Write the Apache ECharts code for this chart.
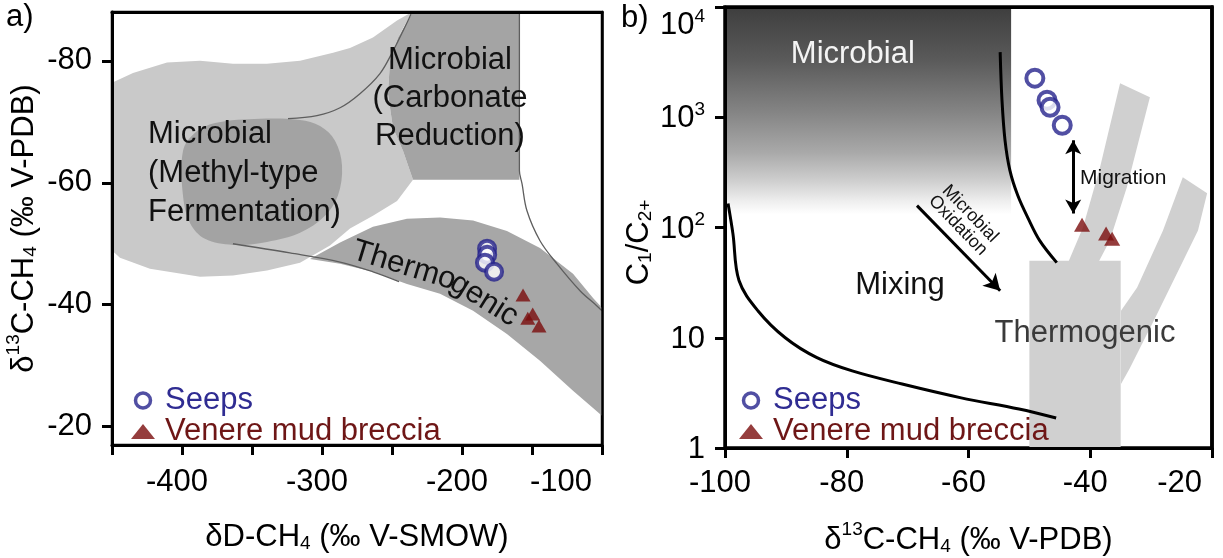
<!DOCTYPE html>
<html><head><meta charset="utf-8">
<script src="https://cdn.jsdelivr.net/npm/echarts@6/dist/echarts.min.js"></script>
<style>html,body{margin:0;padding:0;background:#fff;overflow:hidden;width:1223px;height:558px}#c{width:1223px;height:558px}</style>
</head><body><div id="c"></div>
<script>
const FONT = "'Liberation Sans', Arial, Helvetica, sans-serif";

// ---------- Panel a) : dD-CH4 vs d13C-CH4 ----------
const aYTicks = [-80, -60, -40, -20];
const seepsA = [[-182.1, -49.2], [-182.0, -48.2], [-183.6, -46.9], [-177.1, -45.4]];
const venereA = [[-156.4, -41.6], [-153.0, -37.8], [-149.5, -38.5], [-145.0, -36.5]];
const envelopeA = [[-450, -76.4], [-435, -78.0], [-410.7, -79.7], [-387.1, -80.0], [-363.6, -79.5], [-339.3, -79.5], [-315.7, -80.0], [-292.1, -81.3], [-280, -82.1], [-263.6, -83.8], [-246.4, -86.6], [-235.7, -88],
  [-245.7, -83.8], [-251.4, -80], [-252.9, -74.6], [-249.3, -69.0], [-242.1, -65.2], [-235, -60.5],
  [-246.4, -57.0], [-263.6, -54.6], [-280, -52.5], [-294.3, -49.7], [-315.7, -46.9], [-339.3, -45.6], [-363.6, -44.8], [-387.1, -44.6], [-422.9, -45.9], [-444.3, -47.7], [-450, -48.9]];
const methylA = [[-399.3, -65.2], [-390.7, -68.2], [-376.4, -69.8], [-344.3, -70.5], [-315.7, -70.3], [-301.4, -69.3], [-290.7, -66.9], [-285.7, -62.8], [-288.6, -57.9], [-297.9, -54.6], [-315.7, -51.8], [-339.3, -50.3], [-363.6, -49.8], [-383.6, -50.8], [-394.3, -53.4], [-399.3, -57.9]];
const carbonateA = [[-235, -88], [-159, -88], [-159, -60.5], [-235, -60.5], [-242.1, -65.2], [-249.3, -69.0], [-252.9, -74.6], [-251.4, -80], [-245.7, -83.8]];
const thermoBandA = [[-308.6, -47.5], [-287.1, -50.2], [-263.6, -52.8], [-239.3, -54.1], [-215.7, -54.3], [-192.1, -53.8], [-167.9, -52.1], [-144.3, -49.3], [-120.7, -45.1], [-106.4, -41.1], [-100, -39.5],
  [-100, -21.8], [-120.7, -25.9], [-144.3, -30.8], [-167.9, -35.2], [-192.1, -39.0], [-215.7, -41.8], [-239.3, -43.4], [-263.6, -45.4], [-287.1, -46.7]];
const line1A = [[-324.3, -70.5], [-303.6, -71.0], [-287.1, -72.3], [-272.9, -74.6], [-258.6, -77.9], [-249.3, -81.6], [-242.1, -84.9], [-235.7, -88]];
const line2A = [[-363.6, -50.0], [-322.9, -48.5], [-287.1, -47.0], [-263.6, -45.4], [-245, -43.8]];
const line3A = [[-159, -88], [-159, -62], [-157.1, -59.8], [-153.6, -55.4], [-144.3, -50.5], [-132.1, -46.7], [-115.7, -42.3], [-103.6, -39.8], [-100, -39.0]];
const labelsA = [
  { text: 'Microbial\n(Methyl-type\nFermentation)', at: [-424.3, -61.6], align: 'left', lh: 39 },
  { text: 'Microbial\n(Carbonate\nReduction)', at: [-208.6, -73.8], lh: 38 },
  { text: 'Thermo', at: [-241.4, -46.4], rotate: -17 },
  { text: 'genic', at: [-184.3, -40.8], rotate: -32 }
];

// ---------- Panel b) : d13C-CH4 vs C1/C2+ ----------
const seepsB = [[-49.1, 2263], [-47.1, 1428], [-46.6, 1232], [-44.6, 846]];
const venereB = [[-41.35, 106], [-37.4, 88], [-36.4, 79]];
const mixLowB = [[-99.5, 165], [-98.7, 88], [-97.7, 33], [-94.6, 17.6], [-90.1, 10], [-84.9, 6.6], [-79.1, 5.0], [-70.9, 3.8], [-61.2, 2.85], [-51.7, 2.26], [-45.6, 1.87]];
const mixHighB = [[-54.8, 3900], [-54.5, 1428], [-54.0, 618], [-53.2, 330], [-51.9, 195], [-50.2, 121], [-48.3, 76], [-45.5, 48]];
const microbialZoneB = [[-100, 10000], [-53, 10000], [-53, 100], [-100, 100]];
const thermoStemB = [[-50, 1], [-50, 50], [-35, 50], [-35, 1]];
const thermoBranch1B = [[-43.65, 48], [-41.2, 100], [-38.4, 351], [-35.1, 2037], [-30.2, 1520], [-34.0, 231], [-36.8, 76], [-38.7, 48]];
const thermoBranch2B = [[-34.95, 17.6], [-32.3, 28.5], [-28.05, 94], [-24.8, 285], [-20.8, 204], [-22.3, 94], [-29.0, 16.5], [-33.5, 5.3], [-34.95, 3.8]];
const migrationArrowB = [[-42.8, 618], [-42.8, 134]];
const oxidationArrowB = [[-68.46, 158], [-54.8, 26.7]];
const labelsB = [
  { text: 'Microbial', at: [-79, 3741], color: '#f4f4f4' },
  { text: 'Mixing', at: [-71.25, 29.7] },
  { text: 'Thermogenic', at: [-40.86, 10.9], color: '#3a3a3a' },
  { text: 'Migration', at: [-41.68, 279], align: 'left', size: 21 },
  { text: 'Microbial\nOxidation', at: [-60.74, 118], rotate: -46, size: 18, lh: 17 }
];

const SEEP_COLOR = '#25238c', VEN_COLOR = '#7a0d0d';
const PA = 0, PB = 2; // axis indices of each panel (bottom x / left y)

function poly(pts, fill, ai, z, smooth) {
  return {
    type: 'custom', xAxisIndex: ai, yAxisIndex: ai, z: z, silent: true, data: [pts[0]],
    renderItem: function (params, api) {
      return { type: 'polygon', shape: { points: pts.map(function (p) { return api.coord(p); }), smooth: smooth || 0 }, style: { fill: fill } };
    }
  };
}
function curve(pts, ai, color, width, z) {
  return { type: 'line', xAxisIndex: ai, yAxisIndex: ai, data: pts, smooth: 0.35, showSymbol: false, symbol: 'none', silent: true, z: z,
    lineStyle: { color: color, width: width } };
}
function texts(items, ai) {
  return {
    type: 'custom', xAxisIndex: ai, yAxisIndex: ai, z: 8, silent: true, data: items.map(function (t) { return t.at; }),
    renderItem: function (params, api) {
      const t = items[params.dataIndex];
      const p = api.coord(t.at);
      return { type: 'text', x: p[0], y: p[1], rotation: (t.rotate || 0) * Math.PI / 180,
        style: { text: t.text, fontSize: t.size || 31, fontFamily: FONT, fill: t.color || '#111', align: t.align || 'center', verticalAlign: 'middle', lineHeight: t.lh || 34 } };
    }
  };
}
function arrow(pts, ai, both, size) {
  return { type: 'line', xAxisIndex: ai, yAxisIndex: ai, data: [], silent: true, z: 7,
    markLine: { silent: true, animation: false, symbol: [both ? 'arrow' : 'none', 'arrow'], symbolSize: size, label: { show: false },
      lineStyle: { color: '#000', width: 3, type: 'solid' },
      data: [[{ coord: pts[0] }, { coord: pts[1] }]] } };
}

const richName = {
  a: { fontSize: 31, fontFamily: FONT, color: '#000', lineHeight: 36, verticalAlign: 'bottom' },
  sup: { fontSize: 19, fontFamily: FONT, color: '#000', verticalAlign: 'top', lineHeight: 20 },
  sub: { fontSize: 19, fontFamily: FONT, color: '#000', verticalAlign: 'bottom', lineHeight: 20 }
};
const lineAx = { lineStyle: { color: '#000', width: 3 } };
const labelFont = { fontSize: 31, fontFamily: FONT, color: '#000' };
const tickStyle = { inside: false, length: 10, lineStyle: { color: '#000', width: 3 } };
const legendBase = { orient: 'vertical', itemGap: 0, itemWidth: 24, itemHeight: 15, selectedMode: false,
  textStyle: { fontSize: 31, fontFamily: FONT, lineHeight: 29, padding: [0, 0, 0, 5] },
  data: [{ name: 'Seeps', itemStyle: { borderWidth: 3.5 }, textStyle: { color: '#2f2c92' } }, { name: 'Venere mud breccia', textStyle: { color: '#6e1616' } }] };

const chart = echarts.init(document.getElementById('c'), null, { renderer: 'canvas', width: 1223, height: 558 });
chart.setOption({
  animation: false,
  backgroundColor: '#fff',
  title: [
    { text: 'a)', left: 6, top: 2, padding: 0, textStyle: { fontSize: 31, fontWeight: 'normal', fontFamily: FONT, color: '#000' } },
    { text: 'b)', left: 621, top: 3, padding: 0, textStyle: { fontSize: 31, fontWeight: 'normal', fontFamily: FONT, color: '#000' } }
  ],
  grid: [
    { left: 112, top: 12, width: 490, height: 433, outerBoundsMode: 'none', containLabel: false, show: true, borderColor: '#000', borderWidth: 2.5, backgroundColor: 'transparent' },
    { left: 725, top: 7, width: 487, height: 441, outerBoundsMode: 'none', containLabel: false, show: true, borderColor: '#000', borderWidth: 3.5, backgroundColor: 'transparent' }
  ],
  legend: [
    Object.assign({ left: 126, top: 380 }, legendBase),
    Object.assign({ left: 734, top: 380 }, legendBase)
  ],
  xAxis: [
    { gridIndex: 0, type: 'value', min: -450, max: -100, interval: 50, position: 'bottom', z: 20,
      axisLine: lineAx, axisTick: tickStyle, splitLine: { show: false },
      axisLabel: Object.assign({ margin: 22, padding: [0, 10, 0, 0], alignMaxLabel: 'right', formatter: function (v) { return v % 100 === 0 ? String(v) : ''; } }, labelFont),
      name: '{a|δD-CH}{sub|4}{a| (‰ V-SMOW)}', nameLocation: 'middle', nameGap: 72, nameTextStyle: { rich: richName } },
    { gridIndex: 0, type: 'value', min: -450, max: -100, position: 'top', z: 20, axisLine: lineAx, axisTick: { show: false }, axisLabel: { show: false }, splitLine: { show: false } },
    { gridIndex: 1, type: 'value', min: -100, max: -20, interval: 20, position: 'bottom', z: 20,
      axisLine: lineAx, axisTick: tickStyle, splitLine: { show: false },
      axisLabel: Object.assign({ margin: 20, padding: [0, 10, 0, 0], alignMaxLabel: 'right' }, labelFont),
      name: '{a|δ}{sup|13}{a|C-CH}{sub|4}{a| (‰ V-PDB)}', nameLocation: 'middle', nameGap: 72, nameTextStyle: { rich: richName } },
    { gridIndex: 1, type: 'value', min: -100, max: -20, position: 'top', z: 20, axisLine: lineAx, axisTick: { show: false }, axisLabel: { show: false }, splitLine: { show: false } }
  ],
  yAxis: [
    { gridIndex: 0, type: 'value', inverse: true, min: -88, max: -17, position: 'left', z: 20,
      axisLine: lineAx, axisTick: Object.assign({ customValues: aYTicks }, tickStyle), splitLine: { show: false },
      axisLabel: Object.assign({ margin: 20, customValues: aYTicks }, labelFont),
      name: '{a|δ}{sup|13}{a|C-CH}{sub|4}{a| (‰ V-PDB)}', nameLocation: 'middle', nameGap: 72, nameRotate: 90, nameTextStyle: { rich: richName } },
    { gridIndex: 0, type: 'value', inverse: true, min: -88, max: -17, position: 'right', z: 20, axisLine: { lineStyle: { color: '#000', width: 2.5 } }, axisTick: { show: false }, axisLabel: { show: false }, splitLine: { show: false } },
    { gridIndex: 1, type: 'log', logBase: 10, min: 1, max: 10000, position: 'left', z: 20,
      axisLine: lineAx, axisTick: tickStyle, splitLine: { show: false }, minorTick: { show: false },
      axisLabel: { margin: 20, verticalAlignMaxLabel: 'top', formatter: function (v) { const e = Math.round(Math.log10(v)); return e <= 1 ? '{n|' + Math.round(v) + '}' : '{n|10}{s|' + e + '}'; },
        rich: { n: { fontSize: 31, fontFamily: FONT, color: '#000', lineHeight: 34, verticalAlign: 'bottom' }, s: { fontSize: 19, fontFamily: FONT, color: '#000', lineHeight: 20, verticalAlign: 'top' } } },
      name: '{a|C}{sub|1}{a|/C}{sub|2+}', nameLocation: 'middle', nameGap: 70, nameRotate: 90, nameTextStyle: { rich: richName, padding: [0, 30, 0, 0] } },
    { gridIndex: 1, type: 'log', logBase: 10, min: 1, max: 10000, position: 'right', z: 20, axisLine: { lineStyle: { color: '#000', width: 3.5 } }, axisTick: { show: false }, axisLabel: { show: false }, splitLine: { show: false } }
  ],
  series: [
    // panel a
    poly(envelopeA, '#c9c9c9', PA, 1),
    poly(methylA, '#a3a3a3', PA, 2, 0.35),
    poly(carbonateA, '#a4a4a4', PA, 2),
    poly(thermoBandA, '#a7a7a7', PA, 2),
    curve(line1A, PA, '#5e5e5e', 1.3, 3),
    curve(line2A, PA, '#5e5e5e', 1.3, 3),
    curve(line3A, PA, '#5e5e5e', 1.3, 3),
    texts(labelsA, PA),
    { name: 'Seeps', type: 'scatter', xAxisIndex: PA, yAxisIndex: PA, data: seepsA, symbol: 'circle', symbolSize: 16, z: 10,
      itemStyle: { color: '#fff', borderColor: SEEP_COLOR, borderWidth: 4 } },
    { name: 'Venere mud breccia', type: 'scatter', xAxisIndex: PA, yAxisIndex: PA, data: venereA, symbol: 'triangle', symbolSize: [15, 13], z: 10,
      itemStyle: { color: VEN_COLOR } },
    // panel b
    (function () {
      const s = poly(microbialZoneB, null, PB, 1);
      s.renderItem = function (params, api) {
        return { type: 'polygon', shape: { points: microbialZoneB.map(function (p) { return api.coord(p); }) },
          style: { fill: new echarts.graphic.LinearGradient(0, 0, 0, 1, [
            { offset: 0, color: '#3e3e3e' }, { offset: 0.24, color: '#5a5a5a' }, { offset: 0.48, color: '#858585' },
            { offset: 0.66, color: '#a9a9a9' }, { offset: 0.79, color: '#cfcfcf' }, { offset: 0.88, color: '#eeeeee' }, { offset: 0.94, color: '#ffffff' }, { offset: 1, color: '#ffffff' }]) } };
      };
      return s;
    })(),
    poly(thermoStemB, '#d0d0d0', PB, 2),
    poly(thermoBranch1B, '#d0d0d0', PB, 2),
    poly(thermoBranch2B, '#d0d0d0', PB, 2),
    curve(mixLowB, PB, '#000', 3, 4),
    curve(mixHighB, PB, '#000', 3, 4),
    arrow(migrationArrowB, PB, true, [12, 14]),
    arrow(oxidationArrowB, PB, false, [14, 16]),
    texts(labelsB, PB),
    { name: 'Seeps', type: 'scatter', xAxisIndex: PB, yAxisIndex: PB, data: seepsB, symbol: 'circle', symbolSize: 17, z: 10,
      itemStyle: { color: '#fff', borderColor: SEEP_COLOR, borderWidth: 4 } },
    { name: 'Venere mud breccia', type: 'scatter', xAxisIndex: PB, yAxisIndex: PB, data: venereB, symbol: 'triangle', symbolSize: [16, 14], z: 10,
      itemStyle: { color: VEN_COLOR } }
  ]
});
</script></body></html>
